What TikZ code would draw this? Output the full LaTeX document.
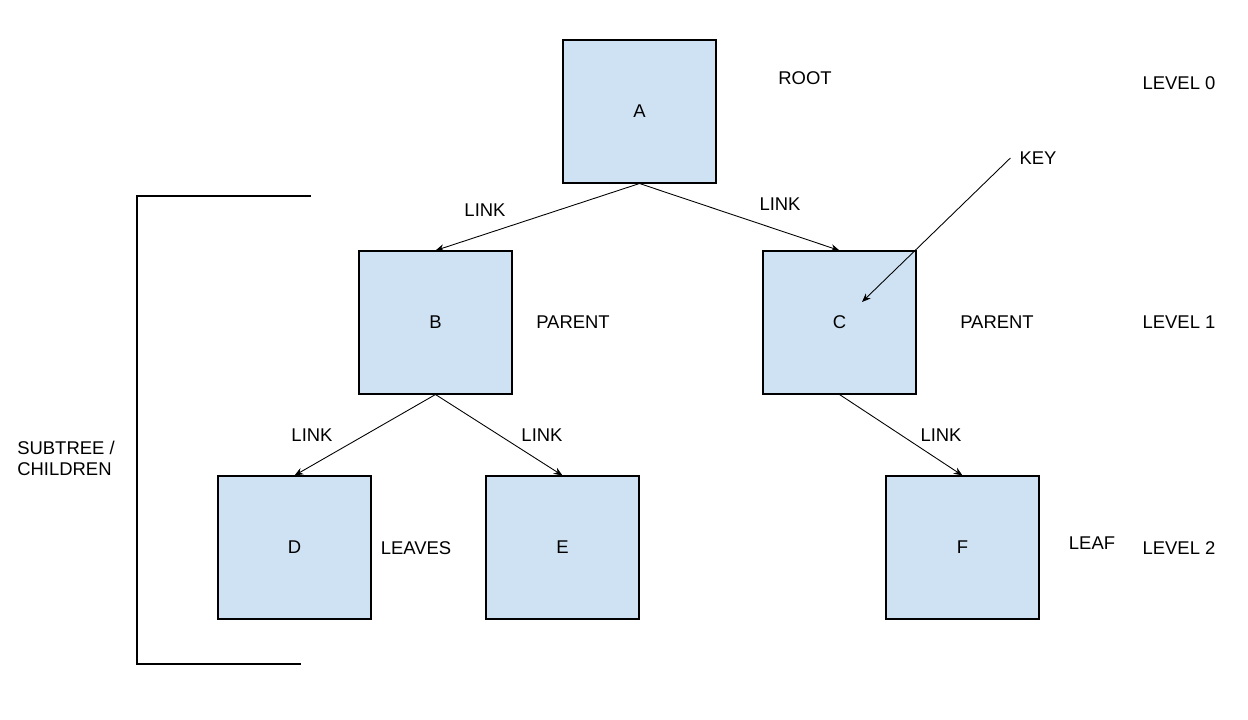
\documentclass[tikz,border=0pt]{standalone}
\usepackage{fontspec}
\setmainfont{Liberation Sans}
\usetikzlibrary{arrows.meta}
\definecolor{boxblue}{HTML}{CFE2F3}

\begin{document}
\begin{tikzpicture}[x=0.02cm,y=-0.02cm,
  treebox/.style={draw=black,fill=boxblue,line width=0.6pt,minimum width=3.06cm,minimum height=2.86cm,inner sep=0pt,font=\fontsize{10.5}{12}\selectfont},
  lbl/.style={inner sep=0pt,font=\fontsize{10.5}{12}\selectfont},
  link/.style={line width=0.5pt,-{Stealth[length=5pt,width=4pt]}}]
\useasboundingbox (0,0) rectangle (1248,720);
% boxes
\node [treebox] (a) at (639.5,111.5) {A};
\node [treebox] (b) at (435.5,322.5) {B};
\node [treebox] (c) at (839.5,322.5) {C};
\node [treebox] (d) at (294.5,547.5) {D};
\node [treebox] (e) at (562.5,547.5) {E};
\node [treebox] (f) at (962.5,547.5) {F};
% links
\draw [link] (a.south) -- (b.north);
\draw [link] (a.south) -- (c.north);
\draw [link] (b.south) -- (d.north);
\draw [link] (b.south) -- (e.north);
\draw [link] (c.south) -- (f.north);
\node [lbl] (linkab) at (485,210) {LINK};
\node [lbl] (linkac) at (780,204) {LINK};
\node [lbl] (linkbd) at (312,435) {LINK};
\node [lbl] (linkbe) at (542,435) {LINK};
\node [lbl] (linkcf) at (941,435) {LINK};
% key
\node [lbl] (key) at (1038,158) {KEY};
\coordinate (keyend) at (862,302);
\draw [link] ([xshift=-5pt]key.west) -- (keyend);
% side labels
\node [lbl] (root) at (805,78) {ROOT};
\node [lbl] (parentb) at (573,322) {PARENT};
\node [lbl] (parentc) at (997,322) {PARENT};
\node [lbl] (leaves) at (416,548) {LEAVES};
\node [lbl] (leaf) at (1092,543) {LEAF};
\node [lbl] (lvl0) at (1179,83) {LEVEL 0};
\node [lbl] (lvl1) at (1179,322) {LEVEL 1};
\node [lbl] (lvl2) at (1179,548) {LEVEL 2};
% subtree bracket
\coordinate (brtop) at (311,196);
\coordinate (brbot) at (301,664);
\draw [line width=1pt] (brtop) -- (137,196) -- (137,664) -- (brbot);
\node [lbl,align=left] (subtree) at (66,458) {SUBTREE /\\CHILDREN};
\end{tikzpicture}
\end{document}
